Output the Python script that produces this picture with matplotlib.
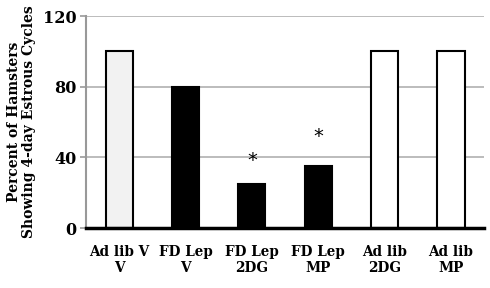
import numpy as np
import matplotlib
matplotlib.use('Agg')
import matplotlib.pyplot as plt

groups = ['Ad lib V\nV', 'FD Lep\nV', 'FD Lep\n2DG', 'FD Lep\nMP', 'Ad lib\n2DG', 'Ad lib\nMP']
percent = [100, 80, 25, 35, 100, 100]
fills = ['#f2f2f2', 'black', 'black', 'black', 'white', 'white']
star_groups = [2, 3]
star_heights = [38, 52]


def main():
    plt.rcParams['font.family'] = 'DejaVu Serif'
    plt.rcParams['font.weight'] = 'bold'
    fig = plt.figure(figsize=(4.9, 2.88), dpi=100)
    ax = fig.add_axes([0.1755, 0.2083, 0.8125, 0.736])
    x = np.arange(len(groups))
    ax.bar(x, percent, width=0.41, color=fills, edgecolor='black', linewidth=1.5, zorder=3)
    for g, h in zip(star_groups, star_heights):
        ax.text(g, h, '*', ha='center', va='center', fontsize=14, fontweight='normal',
                family='DejaVu Sans')
    ax.set_xlim(-0.5, len(groups) - 0.5)
    ax.set_ylim(0, 120)
    ax.set_yticks([0, 40, 80, 120])
    ax.yaxis.grid(True, color='#b0b0b0', linewidth=1.2, zorder=0)
    ax.set_xticks(x)
    ax.set_xticklabels(groups, fontsize=9.8, fontweight='bold', linespacing=1.2)
    ax.tick_params(axis='x', length=0, pad=12)
    ax.tick_params(axis='y', labelsize=11.5, length=4, color='#999999', width=1.2, pad=3)
    for s in ['top', 'right']:
        ax.spines[s].set_visible(False)
    ax.spines['left'].set_color('#999999')
    ax.spines['left'].set_linewidth(1.5)
    ax.spines['bottom'].set_linewidth(2.5)
    ax.spines['bottom'].set_zorder(4)
    ax.set_ylabel('Percent of Hamsters\nShowing 4-day Estrous Cycles', fontsize=10,
                  fontweight='bold', labelpad=5, linespacing=1.1)
    fig.savefig('out.png')


main()
